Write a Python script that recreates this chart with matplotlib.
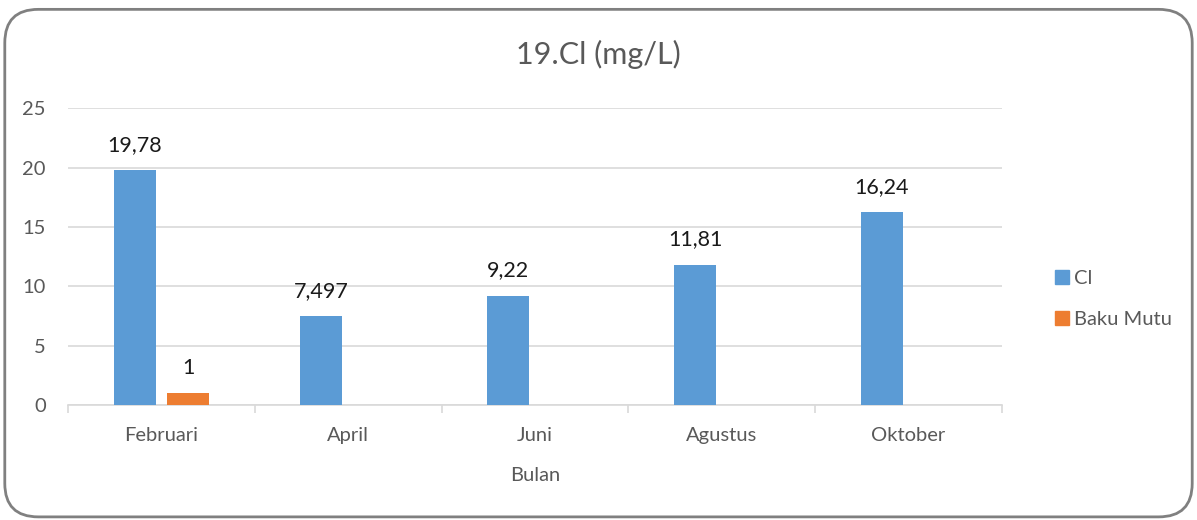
import matplotlib
matplotlib.use("Agg")
import matplotlib.pyplot as plt
import numpy as np
from matplotlib.patches import FancyBboxPatch, Patch

plt.rcParams['font.family'] = ['Lato', 'DejaVu Sans']

bulan = ['Februari', 'April', 'Juni', 'Agustus', 'Oktober']
cl = [19.78, 7.497, 9.22, 11.81, 16.24]
baku_mutu = [1, 0, 0, 0, 0]
cl_labels = ['19,78', '7,497', '9,22', '11,81', '16,24']
bm_labels = ['1', '', '', '', '']

c_cl = '#5B9BD5'
c_bm = '#ED7D31'
grey = '#595959'

fig = plt.figure(figsize=(11.97, 5.2), dpi=100)
ax = fig.add_axes([0.0568, 0.221, 0.7802, 0.571])

x = np.arange(len(bulan))
w = 0.225
off = 0.143
b1 = ax.bar(x - off, cl, w, color=c_cl, zorder=3)
b2 = ax.bar(x + off, baku_mutu, w, color=c_bm, zorder=3)

for rect, lab in zip(b1, cl_labels):
    ax.text(rect.get_x() + rect.get_width() / 2, rect.get_height() + 1.3, lab,
            ha='center', va='bottom', fontsize=15.5, color='#1a1a1a')
for rect, lab in zip(b2, bm_labels):
    if lab:
        ax.text(rect.get_x() + rect.get_width() / 2, rect.get_height() + 1.3, lab,
                ha='center', va='bottom', fontsize=15.5, color='#1a1a1a')

ax.set_xlim(-0.5, 4.5)
ax.set_ylim(0, 25)
ax.set_yticks([0, 5, 10, 15, 20, 25])
ax.yaxis.grid(True, color='#D9D9D9', linewidth=1.2, zorder=0)
ax.set_axisbelow(True)
for s in ['top', 'right', 'left']:
    ax.spines[s].set_visible(False)
ax.spines['bottom'].set_color('#D9D9D9')
ax.spines['bottom'].set_linewidth(1.2)

ax.set_xticks(x)
ax.set_xticklabels(bulan)
ax.set_xticks(np.arange(-0.5, 5, 1), minor=True)
ax.tick_params(axis='x', which='major', length=0, pad=16, labelsize=14.5, labelcolor=grey)
ax.tick_params(axis='x', which='minor', length=6, color='#D9D9D9', width=1.2)
ax.tick_params(axis='y', length=0, pad=16, labelsize=14.5, labelcolor=grey)
ax.set_xlabel('Bulan', fontsize=14.5, color=grey, labelpad=16)

fig.text(0.5, 0.895, '19.Cl (mg/L)', ha='center', va='center', fontsize=22, color=grey)

handles = [Patch(color=c_cl, label='Cl'), Patch(color=c_bm, label='Baku Mutu')]
fig.legend(handles=handles, loc='center left', bbox_to_anchor=(0.866, 0.425),
           frameon=False, fontsize=14.5, labelcolor=grey, handlelength=0.7,
           handleheight=0.7, handletextpad=0.25, labelspacing=1.2)

box = FancyBboxPatch((0.004, 0.006), 0.992, 0.976, transform=fig.transFigure,
                     boxstyle='round,pad=0,rounding_size=0.028', mutation_aspect=2.3,
                     fill=False, edgecolor='#808080', linewidth=2)
fig.patches.append(box)

fig.savefig('out.png', dpi=100)
